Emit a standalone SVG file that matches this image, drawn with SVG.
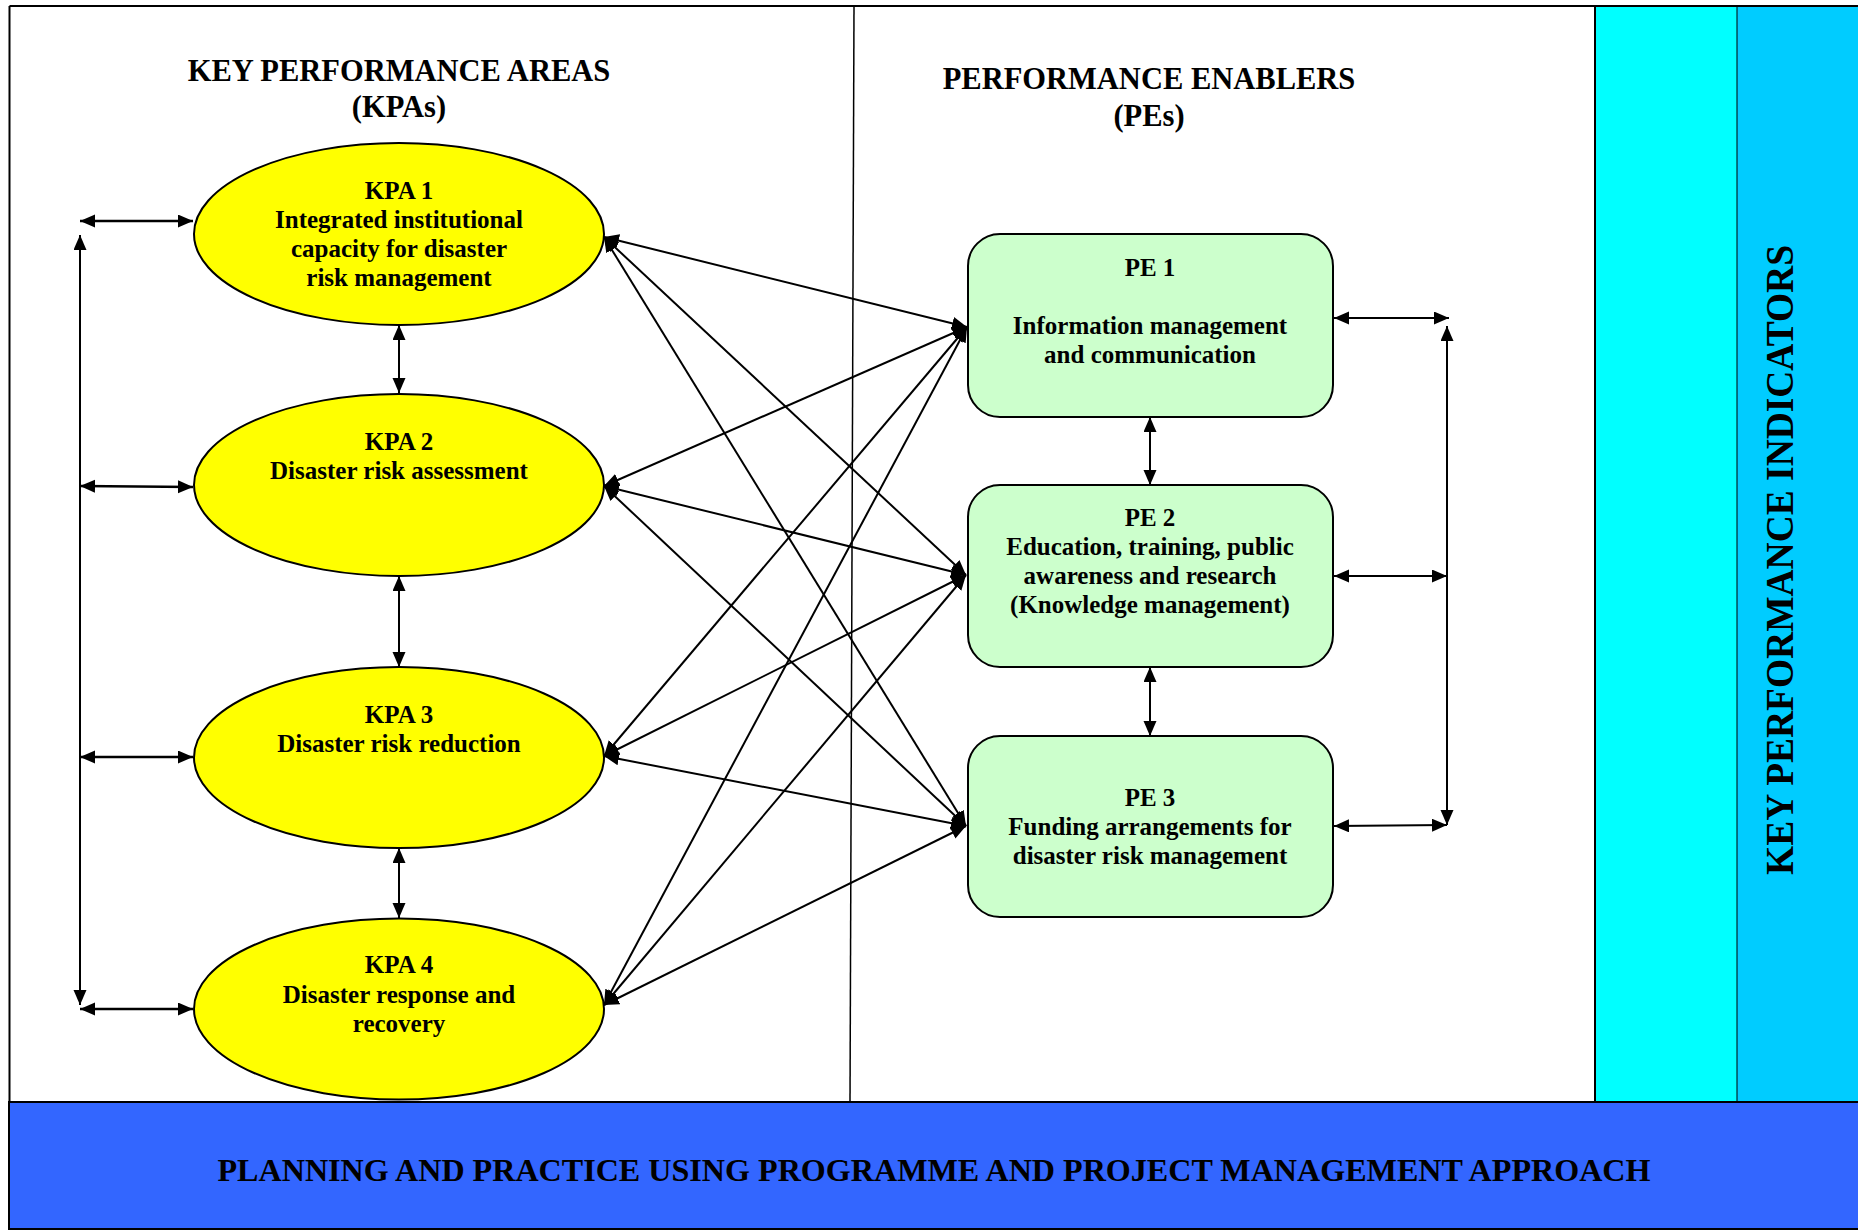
<svg xmlns="http://www.w3.org/2000/svg" width="1858" height="1231" viewBox="0 0 1858 1231">
<style>
  text { font-family: "Liberation Serif", "Times New Roman", serif; font-weight: bold; fill: #000; text-anchor: middle; }
  .title { font-size: 30.5px; }
  .node { font-size: 25px; }
  .kpa { fill: #FFFF00; stroke: #000; stroke-width: 2; }
  .pe { fill: #CCFFCC; stroke: #000; stroke-width: 2; }
  .conn { stroke: #000; stroke-width: 2; fill: none; marker-start: url(#ah); marker-end: url(#ah); }
  .thick { stroke-width: 2.6; }
</style>
<defs>
  <marker id="ah" markerUnits="userSpaceOnUse" markerWidth="16" markerHeight="14" refX="15" refY="6.5" orient="auto-start-reverse">
    <path d="M0,0 L15,6.5 L0,13 z" fill="#000"/>
  </marker>
</defs>

<g id="background">
  <rect x="0" y="0" width="1858" height="1231" fill="#FFFFFF"/>
  <rect x="1595" y="6" width="142" height="1096" fill="#00FFFF"/>
  <rect x="1737" y="6" width="121" height="1096" fill="#00CCFF"/>
  <line x1="1595" y1="6" x2="1595" y2="1102" stroke="#000" stroke-width="2"/>
  <line x1="1737" y1="6" x2="1737" y2="1102" stroke="#000" stroke-width="1"/>
  <line x1="9.5" y1="6" x2="1858" y2="6" stroke="#000" stroke-width="2"/>
  <line x1="9.5" y1="6" x2="9.5" y2="1102" stroke="#000" stroke-width="2"/>
  <line x1="854" y1="6" x2="850" y2="1102" stroke="#000" stroke-width="1.5"/>
</g>

<g id="band">
  <rect x="9" y="1102" width="1850" height="127" fill="#3366FF" stroke="#000" stroke-width="2"/>
  <text x="934" y="1181" style="font-size:32px" textLength="1433" lengthAdjust="spacingAndGlyphs">PLANNING AND PRACTICE USING PROGRAMME AND PROJECT MANAGEMENT APPROACH</text>
</g>

<g id="kpi-label">
  <text transform="translate(1793,560) rotate(-90)" x="0" y="0" style="font-size:39px" textLength="630" lengthAdjust="spacingAndGlyphs">KEY PERFORMANCE INDICATORS</text>
</g>

<g id="titles">
  <text class="title" x="399" y="81">KEY PERFORMANCE AREAS</text>
  <text class="title" x="399" y="117">(KPAs)</text>
  <text class="title" x="1149" y="89">PERFORMANCE ENABLERS</text>
  <text class="title" x="1149" y="126">(PEs)</text>
</g>

<g id="connectors">
  <!-- left side -->
  <line class="conn thick" x1="80" y1="221" x2="193" y2="221"/>
  <line class="conn thick" x1="80" y1="486" x2="193" y2="487"/>
  <line class="conn thick" x1="80" y1="757" x2="193" y2="757"/>
  <line class="conn thick" x1="80" y1="1009" x2="193" y2="1009"/>
  <line class="conn" x1="80" y1="235" x2="80" y2="1005"/>
  <!-- between KPAs -->
  <line class="conn" x1="399" y1="325" x2="399" y2="393"/>
  <line class="conn" x1="399" y1="576" x2="399" y2="667"/>
  <line class="conn" x1="399" y1="848" x2="399" y2="918"/>
  <!-- between PEs -->
  <line class="conn" x1="1150" y1="417" x2="1150" y2="485"/>
  <line class="conn" x1="1150" y1="667" x2="1150" y2="736"/>
  <!-- right side -->
  <line class="conn" x1="1334" y1="318" x2="1449" y2="318"/>
  <line class="conn" x1="1334" y1="576" x2="1447" y2="576"/>
  <line class="conn" x1="1334" y1="826" x2="1447" y2="825"/>
  <line class="conn" x1="1447" y1="326" x2="1447" y2="825"/>
  <!-- cross links KPA <-> PE -->
  <line class="conn" x1="604" y1="237" x2="967" y2="327"/>
  <line class="conn" x1="604" y1="237" x2="966" y2="575"/>
  <line class="conn" x1="604" y1="237" x2="966" y2="826"/>
  <line class="conn" x1="604" y1="486" x2="967" y2="327"/>
  <line class="conn" x1="604" y1="486" x2="966" y2="575"/>
  <line class="conn" x1="604" y1="486" x2="966" y2="826"/>
  <line class="conn" x1="604" y1="756" x2="967" y2="327"/>
  <line class="conn" x1="604" y1="756" x2="966" y2="575"/>
  <line class="conn" x1="604" y1="756" x2="966" y2="826"/>
  <line class="conn" x1="604" y1="1005" x2="967" y2="327"/>
  <line class="conn" x1="604" y1="1005" x2="966" y2="575"/>
  <line class="conn" x1="604" y1="1005" x2="966" y2="826"/>
</g>

<g id="kpa1">
  <ellipse class="kpa" cx="399" cy="234" rx="205" ry="91"/>
  <text class="node" x="399" y="199">KPA 1</text>
  <text class="node" x="399" y="228">Integrated institutional</text>
  <text class="node" x="399" y="257">capacity for disaster</text>
  <text class="node" x="399" y="286">risk management</text>
</g>
<g id="kpa2">
  <ellipse class="kpa" cx="399" cy="485" rx="205" ry="91"/>
  <text class="node" x="399" y="450">KPA 2</text>
  <text class="node" x="399" y="479">Disaster risk assessment</text>
</g>
<g id="kpa3">
  <ellipse class="kpa" cx="399" cy="757.5" rx="205" ry="90.5"/>
  <text class="node" x="399" y="723">KPA 3</text>
  <text class="node" x="399" y="752">Disaster risk reduction</text>
</g>
<g id="kpa4">
  <ellipse class="kpa" cx="399" cy="1009" rx="205" ry="90.5"/>
  <text class="node" x="399" y="973">KPA 4</text>
  <text class="node" x="399" y="1003">Disaster response and</text>
  <text class="node" x="399" y="1032">recovery</text>
</g>

<g id="pe1">
  <rect class="pe" x="968" y="234" width="365" height="183" rx="32" ry="32"/>
  <text class="node" x="1150" y="276">PE 1</text>
  <text class="node" x="1150" y="334">Information management</text>
  <text class="node" x="1150" y="363">and communication</text>
</g>
<g id="pe2">
  <rect class="pe" x="968" y="485" width="365" height="182" rx="32" ry="32"/>
  <text class="node" x="1150" y="526">PE 2</text>
  <text class="node" x="1150" y="555">Education, training, public</text>
  <text class="node" x="1150" y="584">awareness and research</text>
  <text class="node" x="1150" y="613">(Knowledge management)</text>
</g>
<g id="pe3">
  <rect class="pe" x="968" y="736" width="365" height="181" rx="32" ry="32"/>
  <text class="node" x="1150" y="806">PE 3</text>
  <text class="node" x="1150" y="835">Funding arrangements for</text>
  <text class="node" x="1150" y="864">disaster risk management</text>
</g>
</svg>
